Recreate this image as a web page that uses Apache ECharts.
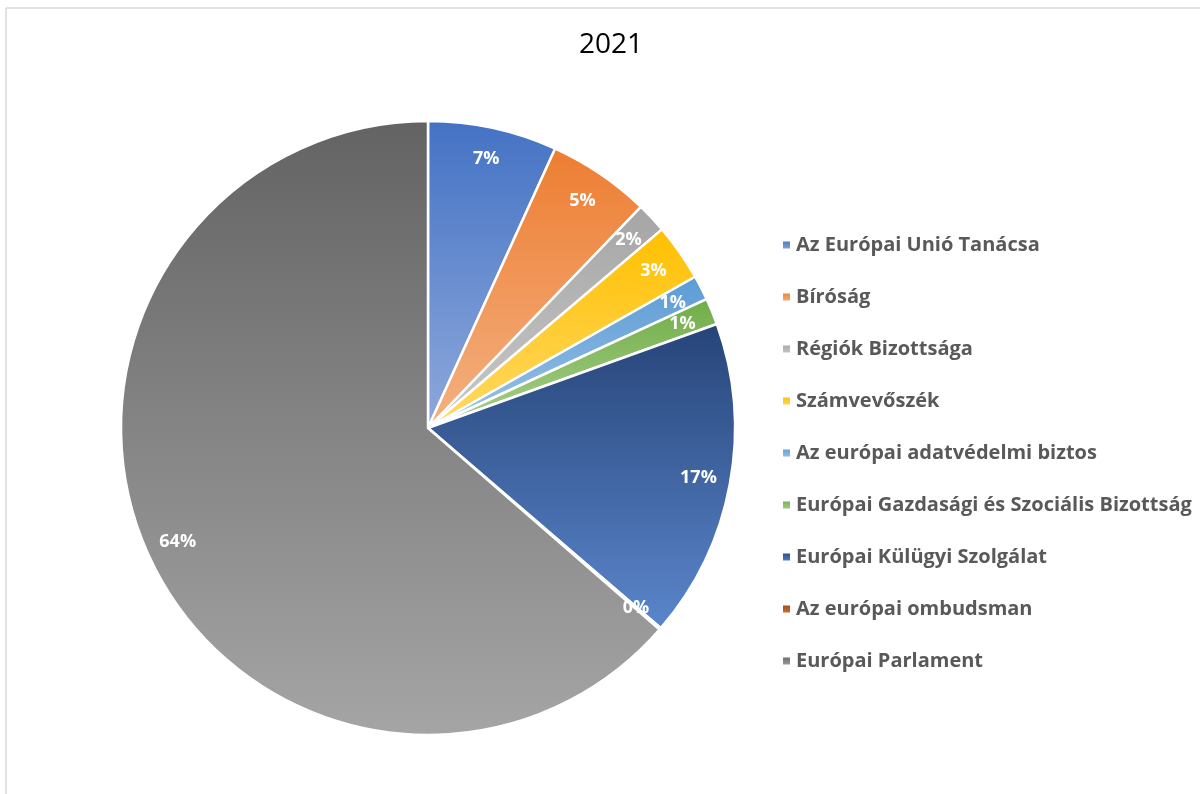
<!DOCTYPE html>
<html><head><meta charset="utf-8">
<script src="https://cdn.jsdelivr.net/npm/echarts@6/dist/echarts.min.js"></script>
<style>html,body{margin:0;padding:0;background:#fff}#c{width:1200px;height:794px}</style>
</head><body><div id="c"></div>
<script>
const title = '2021';
const categories = ['Az Európai Unió Tanácsa','Bíróság','Régiók Bizottsága','Számvevőszék','Az európai adatvédelmi biztos','Európai Gazdasági és Szociális Bizottság','Európai Külügyi Szolgálat','Az európai ombudsman','Európai Parlament'];
const values = [6.8, 5.4, 1.6, 3.0, 1.3, 1.4, 16.8, 0.1, 63.6];
const topColors = ['#4472C4','#ED7D31','#A5A5A5','#FFC000','#5B9BD5','#70AD47','#264478','#9E480E','#636363'];
const bottomColors = ['#8EA9DB','#F4B183','#C9C9C9','#FFD966','#9DC3E6','#A9D08E','#5B86CC','#D2773A','#A5A5A5'];

function grad(i){
  return new echarts.graphic.LinearGradient(0,0,0,1,[{offset:0,color:topColors[i]},{offset:1,color:bottomColors[i]}]);
}
const data = categories.map((n,i)=>({name:n,value:values[i],itemStyle:{color:grad(i)}}));
const labelData = categories.map((n,i)=>({name:n,value:values[i]}));

const chart = echarts.init(document.getElementById('c'));
chart.setOption({
  animation:false,
  backgroundColor:'#fff',
  title:{text:title,left:606,top:26,textAlign:'center',textStyle:{fontFamily:'Open Sans',fontWeight:'normal',fontSize:28,color:'#000'}},
  legend:{orient:'vertical',left:776,top:228,itemWidth:9,itemHeight:9,itemGap:28,icon:'rect',
    textStyle:{fontFamily:'Open Sans',fontWeight:'bold',fontSize:20,color:'#595959',lineHeight:24},data:categories},
  graphic:[
    {type:'line',shape:{x1:6,y1:8,x2:1200,y2:8},style:{stroke:'#D9D9D9',lineWidth:1.5},silent:true},
    {type:'line',shape:{x1:6,y1:8,x2:6,y2:794},style:{stroke:'#D9D9D9',lineWidth:1.5},silent:true}
  ],
  series:[
    {type:'pie',center:[428,428],radius:[0,307],startAngle:90,clockwise:true,avoidLabelOverlap:false,
     itemStyle:{borderColor:'#fff',borderWidth:2.5},label:{show:false},labelLine:{show:false},data:data},
    {type:'pie',center:[428,428],radius:[237,307],startAngle:90,clockwise:true,avoidLabelOverlap:false,silent:true,
     legendHoverLink:false,itemStyle:{color:'rgba(0,0,0,0)',borderWidth:0},
     label:{show:true,position:'inside',formatter:p=>Math.round(p.percent)+'%',fontFamily:'Open Sans',fontWeight:'bold',fontSize:18,color:'#fff'},
     labelLine:{show:false},data:labelData}
  ]
});
</script></body></html>
